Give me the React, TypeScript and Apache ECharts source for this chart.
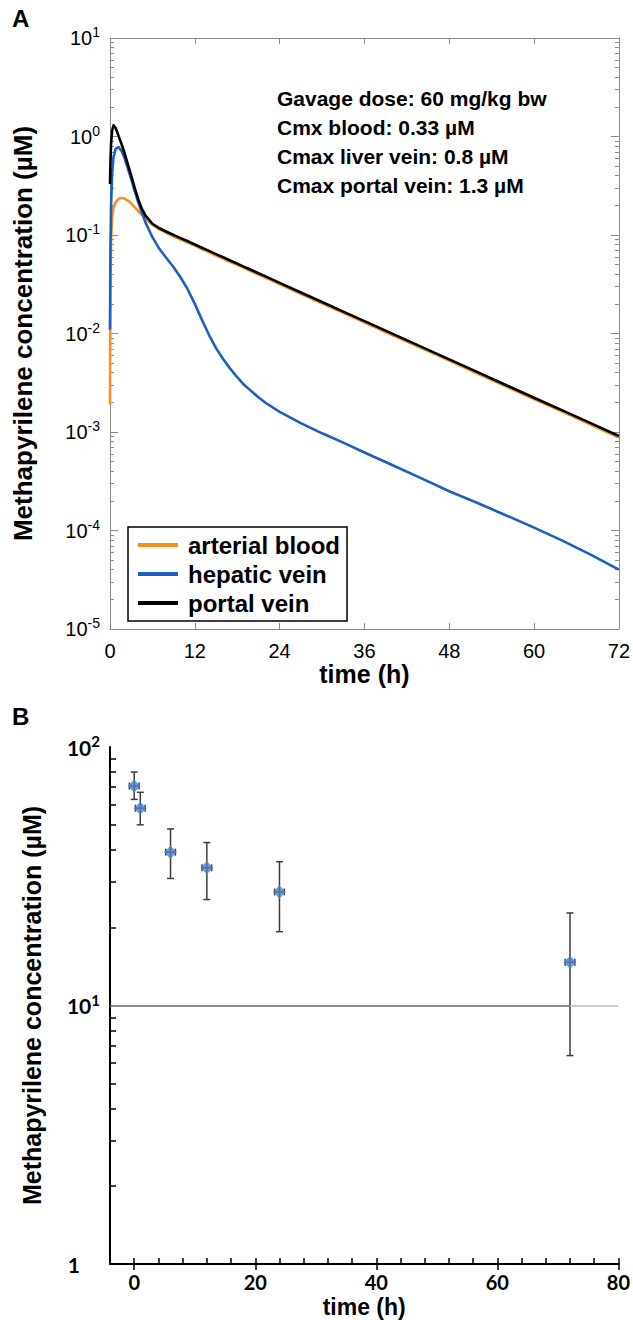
import React, { useEffect, useRef } from "react";
import * as echarts from "echarts";

// ---------- Panel A: simulated PBPK curves ----------
const hours = [0, 0.05, 0.15, 0.3, 0.5, 0.8, 1.2, 1.6, 2, 2.5, 3, 3.5, 4, 4.5, 5, 6, 7, 8, 9, 10, 11, 12, 13, 14, 15, 16, 17, 18, 19, 20, 21, 22, 24, 27, 30, 33, 36, 40, 44, 48, 52, 56, 60, 64, 68, 72];
const arterialBlood = [0.0019, 0.03, 0.09, 0.15, 0.19, 0.215, 0.232, 0.238, 0.235, 0.225, 0.21, 0.192, 0.175, 0.16, 0.148, 0.127, 0.114, 0.105, 0.097, 0.09, 0.084, 0.078, 0.072, 0.067, 0.062, 0.0577, 0.0535, 0.0497, 0.0461, 0.0428, 0.0397, 0.0369, 0.0317, 0.0253, 0.0203, 0.0162, 0.013, 0.0096, 0.00714, 0.0053, 0.00393, 0.00291, 0.00216, 0.00161, 0.00119, 0.00088];
const hepaticVein = [0.011, 0.06, 0.2, 0.42, 0.62, 0.75, 0.78, 0.72, 0.62, 0.48, 0.37, 0.28, 0.215, 0.17, 0.135, 0.095, 0.072, 0.058, 0.047, 0.037, 0.028, 0.02, 0.0138, 0.0097, 0.0071, 0.0055, 0.0044, 0.0036, 0.003, 0.0026, 0.00225, 0.00198, 0.0016, 0.00123, 0.00097, 0.00078, 0.00062, 0.00046, 0.00034, 0.00025, 0.00019, 0.000143, 0.000107, 0.000079, 0.000057, 0.00004];
const portalVein = [0.33, 0.5, 0.85, 1.15, 1.3, 1.22, 1.02, 0.85, 0.7, 0.53, 0.4, 0.3, 0.23, 0.185, 0.158, 0.13, 0.117, 0.108, 0.1, 0.093, 0.0863, 0.08, 0.0743, 0.069, 0.064, 0.0594, 0.0551, 0.0512, 0.0475, 0.0441, 0.0409, 0.038, 0.0327, 0.0261, 0.0209, 0.0167, 0.01336, 0.0099, 0.00736, 0.00546, 0.00405, 0.003, 0.00223, 0.00166, 0.00123, 0.00091];
const seriesNamesA = ["arterial blood", "hepatic vein", "portal vein"];
const annotationLines = [
  "Gavage dose: 60 mg/kg bw",
  "Cmx blood: 0.33 \u00b5M",
  "Cmax liver vein: 0.8 \u00b5M",
  "Cmax portal vein: 1.3 \u00b5M",
];
const decadesA = [-5, -4, -3, -2, -1, 0];
const minorMultipliers = [2, 3, 4, 5, 6, 7, 8, 9];

// ---------- Panel B: measured concentrations ----------
const sampleTimes = [0, 1, 6, 12, 24, 72];
const meanConc = [70.6, 58, 39.2, 34.1, 27.5, 14.7];
const lowConc = [62.7, 50, 31, 25.7, 19.3, 6.4];
const highConc = [80, 66.8, 48.2, 42.7, 36, 22.8];
const timeErr = [0.8, 0.8, 0.8, 0.8, 0.8, 0.8];
const xLabelsB = [0, 20, 40, 60, 80];
const xMinorB = [0, 4, 8, 12, 16, 20, 24, 28, 32, 36, 40, 44, 48, 52, 56, 60, 64, 68, 72, 76, 80];
const decadesB = [0, 1];

const FONT = "'Liberation Sans', Arial, sans-serif";
const FONT_B = "Lato, 'Open Sans', sans-serif";

const minorA = decadesA.flatMap((d) => minorMultipliers.map((m) => d + Math.log10(m)));
const minorB = decadesB.flatMap((d) => minorMultipliers.map((m) => d + Math.log10(m)));

const expOf = (v: number) => Math.round(Math.log10(v));

export default function App() {
  const ref = useRef<HTMLDivElement>(null);
  useEffect(() => {
    document.body.style.margin = "0";
    if (!ref.current) return;
    const chart = echarts.init(ref.current, undefined, { renderer: "svg" });
    const colors = ["#F7901E", "#1C5FC0", "#000000"];
    const lineData = [arterialBlood, hepaticVein, portalVein];
    const gray = "#8a8a8a";
    const noZero = { onZero: false };

    const option: any = {
      animation: false,
      textStyle: { fontFamily: FONT },
      grid: [
        { left: 110, top: 38, width: 510, height: 591 },
        { left: 110, top: 747, width: 512, height: 517 },
      ],
      legend: {
        data: seriesNamesA,
        orient: "vertical",
        left: 128,
        top: 527,
        icon: "rect",
        itemWidth: 40,
        itemHeight: 4,
        itemGap: 5,
        padding: [6, 7, 6, 10],
        borderColor: "#000",
        borderWidth: 1.5,
        textStyle: { fontSize: 24, fontWeight: "bold", color: "#000", fontFamily: FONT, padding: [0, 0, 0, 5] },
      },
      xAxis: [
        {
          gridIndex: 0, type: "value", min: 0, max: 72, interval: 12, position: "bottom",
          axisLine: { ...noZero, lineStyle: { color: gray, width: 1 } },
          axisTick: { inside: true, length: 6, lineStyle: { color: gray } },
          splitLine: { show: false },
          axisLabel: { color: "#000", fontSize: 20, margin: 12, fontFamily: FONT },
          name: "time (h)", nameLocation: "middle", nameGap: 30,
          nameTextStyle: { fontSize: 25, fontWeight: "bold", color: "#000", fontFamily: FONT },
        },
        {
          gridIndex: 0, type: "value", min: 0, max: 72, interval: 12, position: "top",
          axisLine: { ...noZero, lineStyle: { color: gray, width: 1 } },
          axisTick: { inside: true, length: 6, lineStyle: { color: gray } },
          splitLine: { show: false },
          axisLabel: { show: false },
        },
        {
          gridIndex: 1, type: "value", min: -4, max: 80, position: "bottom",
          axisLine: { ...noZero, lineStyle: { color: "#000", width: 2 } },
          axisTick: { customValues: xLabelsB, inside: false, length: 6, lineStyle: { color: "#000", width: 1.5 } },
          splitLine: { show: false },
          axisLabel: { customValues: xLabelsB, color: "#000", fontSize: 20, fontWeight: "bold", fontFamily: FONT_B, margin: 8 },
          name: "time (h)", nameLocation: "middle", nameGap: 31,
          nameTextStyle: { fontSize: 23, fontWeight: "bold", color: "#000", fontFamily: FONT },
        },
        {
          gridIndex: 1, type: "value", min: -4, max: 80, position: "bottom",
          axisLine: { show: false, onZero: false },
          axisTick: { customValues: xMinorB, inside: true, length: 6, lineStyle: { color: "#000", width: 1.5 } },
          splitLine: { show: false },
          axisLabel: { show: false },
        },
      ],
      yAxis: [
        {
          gridIndex: 0, type: "log", logBase: 10, min: 1e-5, max: 10, position: "left",
          axisLine: { ...noZero, lineStyle: { color: gray, width: 1 } },
          axisTick: { inside: true, length: 8, lineStyle: { color: gray } },
          splitLine: { show: false },
          axisLabel: {
            margin: 10,
            formatter: (v: number) => `{b|10}{s|${expOf(v)}}`,
            rich: {
              b: { fontSize: 20, color: "#000", fontFamily: FONT },
              s: { fontSize: 14, color: "#000", fontFamily: FONT, padding: [0, 0, 12, 0] },
            },
          },
          name: "Methapyrilene concentration (\u00b5M)", nameLocation: "middle", nameGap: 74, nameRotate: 90,
          nameTextStyle: { fontSize: 26, fontWeight: "bold", color: "#000", fontFamily: FONT },
        },
        {
          gridIndex: 0, type: "log", logBase: 10, min: 1e-5, max: 10, position: "right",
          axisLine: { ...noZero, lineStyle: { color: gray, width: 1 } },
          axisTick: { inside: true, length: 8, lineStyle: { color: gray } },
          splitLine: { show: false },
          axisLabel: { show: false },
        },
        {
          gridIndex: 0, type: "value", min: -5, max: 1, position: "left",
          axisLine: { show: false, onZero: false },
          axisTick: { customValues: minorA, inside: true, length: 4, lineStyle: { color: gray } },
          splitLine: { show: false },
          axisLabel: { show: false },
        },
        {
          gridIndex: 0, type: "value", min: -5, max: 1, position: "right",
          axisLine: { show: false, onZero: false },
          axisTick: { customValues: minorA, inside: true, length: 4, lineStyle: { color: gray } },
          splitLine: { show: false },
          axisLabel: { show: false },
        },
        {
          gridIndex: 1, type: "log", logBase: 10, min: 1, max: 100, position: "left",
          axisLine: { ...noZero, lineStyle: { color: "#000", width: 2 } },
          axisTick: { show: false },
          splitLine: { show: false },
          axisLabel: {
            margin: 10,
            formatter: (v: number) => (expOf(v) === 0 ? "{o|1}" : `{b|10}{s|${expOf(v)}}`),
            rich: {
              o: { fontSize: 21, fontWeight: "bold", color: "#000", fontFamily: FONT_B, padding: [0, 20, 0, 0] },
              b: { fontSize: 21, fontWeight: "bold", color: "#000", fontFamily: FONT_B },
              s: { fontSize: 15, fontWeight: "bold", color: "#000", fontFamily: FONT_B, padding: [0, 0, 12, 0] },
            },
          },
          name: "Methapyrilene concentration (\u00b5M)", nameLocation: "middle", nameGap: 66, nameRotate: 90,
          nameTextStyle: { fontSize: 25, fontWeight: "bold", color: "#000", fontFamily: FONT },
        },
        {
          gridIndex: 1, type: "value", min: 0, max: 2, position: "left",
          axisLine: { show: false, onZero: false },
          axisTick: { customValues: minorB, inside: true, length: 6, lineStyle: { color: "#000", width: 1.5 } },
          splitLine: { show: false },
          axisLabel: { show: false },
        },
      ],
      series: [
        ...seriesNamesA.map((name, k) => ({
          type: "line",
          name,
          xAxisIndex: 0,
          yAxisIndex: 0,
          data: hours.map((t, i) => [t, lineData[k][i]]),
          symbol: "none",
          showSymbol: false,
          smooth: false,
          lineStyle: { color: colors[k], width: 2.6, join: "round" },
          itemStyle: { color: colors[k] },
          z: 2 + k,
        })),
        {
          type: "custom",
          name: "error",
          xAxisIndex: 2,
          yAxisIndex: 4,
          data: sampleTimes.map((t, i) => [t, meanConc[i], lowConc[i], highConc[i], timeErr[i]]),
          encode: { x: 0, y: [1, 2, 3] },
          renderItem: (params: any, api: any) => {
            const t = api.value(0);
            const m = api.value(1);
            const lo = api.value(2);
            const hi = api.value(3);
            const xe = api.value(4);
            const pLo = api.coord([t, lo]);
            const pHi = api.coord([t, hi]);
            const pL = api.coord([t - xe, m]);
            const pR = api.coord([t + xe, m]);
            const cap = 3.5;
            const style = { stroke: "#3c3c3c", lineWidth: 1.5, fill: null };
            const seg = (x1: number, y1: number, x2: number, y2: number) => ({ type: "line", shape: { x1, y1, x2, y2 }, style });
            return {
              type: "group",
              children: [
                seg(pLo[0], pLo[1], pHi[0], pHi[1]),
                seg(pLo[0] - cap, pLo[1], pLo[0] + cap, pLo[1]),
                seg(pHi[0] - cap, pHi[1], pHi[0] + cap, pHi[1]),
                seg(pL[0], pL[1], pR[0], pR[1]),
                seg(pL[0], pL[1] - cap, pL[0], pL[1] + cap),
                seg(pR[0], pR[1] - cap, pR[0], pR[1] + cap),
              ],
            };
          },
          z: 4,
        },
        {
          type: "scatter",
          name: "measured",
          xAxisIndex: 2,
          yAxisIndex: 4,
          data: sampleTimes.map((t, i) => [t, meanConc[i]]),
          symbol: "diamond",
          symbolSize: 13,
          itemStyle: { color: "#4A7FC4" },
          z: 5,
          markLine: {
            silent: true,
            symbol: "none",
            label: { show: false },
            data: [
              [{ coord: [-4, 10] }, { coord: [72, 10] }],
              [{ coord: [72, 10], lineStyle: { color: "#bdbdbd" } }, { coord: [80, 10] }],
            ],
            lineStyle: { color: "#666", width: 1.5, type: "solid" },
          },
        },
      ],
      graphic: [
        { type: "text", left: 12, top: 6, style: { text: "A", fontSize: 24, fontWeight: "bold", fill: "#000", fontFamily: FONT } },
        { type: "text", left: 12, top: 704, style: { text: "B", fontSize: 24, fontWeight: "bold", fill: "#000", fontFamily: FONT } },
        ...annotationLines.map((line, i) => ({
          type: "text",
          x: 277,
          y: 98 + i * 29,
          style: { text: line, fontSize: 21, fontWeight: "bold", fill: "#000", fontFamily: FONT, verticalAlign: "middle", textVerticalAlign: "middle" },
        })),
      ],
    };
    chart.setOption(option);
    return () => chart.dispose();
  }, []);
  return <div ref={ref} style={{ width: 633, height: 1320 }} />;
}
